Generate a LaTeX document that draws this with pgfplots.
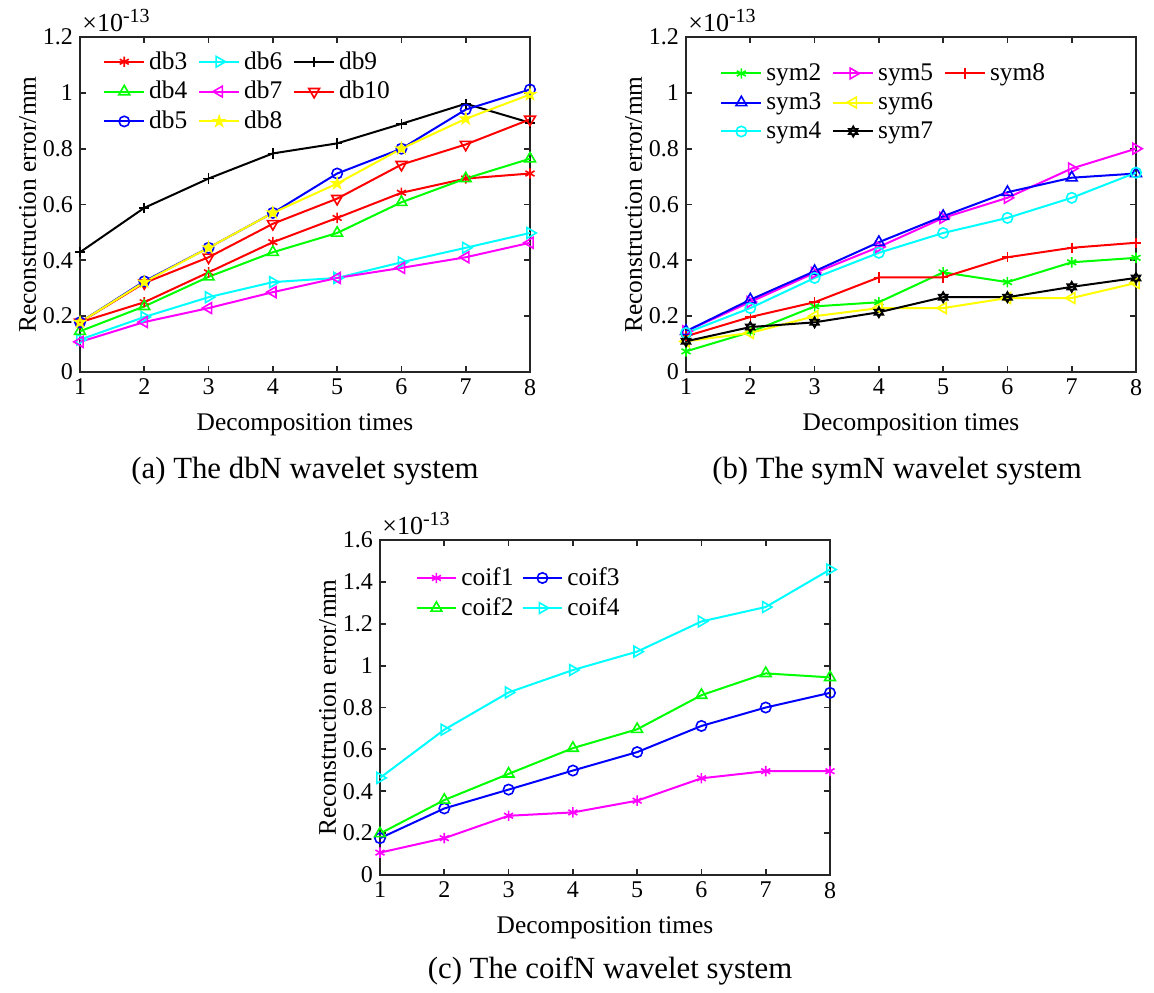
\documentclass[border=0pt]{standalone}
\usepackage{fontspec}
\setmainfont{Liberation Serif}
\usepackage{pgfplots}
\pgfplotsset{compat=1.18}

% pure RGB line colours
\definecolor{lred}{rgb}{1,0,0}
\definecolor{lgreen}{rgb}{0,1,0}
\definecolor{lblue}{rgb}{0,0,1}
\definecolor{lcyan}{rgb}{0,1,1}
\definecolor{lmagenta}{rgb}{1,0,1}
\definecolor{lyellow}{rgb}{1,1,0}
\definecolor{lblack}{rgb}{0,0,0}
\definecolor{axisgray}{rgb}{0.15,0.15,0.15}

% outlined pentagram and hexagram marks
\pgfdeclareplotmark{pentagram}{%
  \pgfpathmoveto{\pgfqpointpolar{90}{\pgfplotmarksize}}%
  \pgfpathlineto{\pgfqpointpolar{234}{\pgfplotmarksize}}%
  \pgfpathlineto{\pgfqpointpolar{18}{\pgfplotmarksize}}%
  \pgfpathlineto{\pgfqpointpolar{162}{\pgfplotmarksize}}%
  \pgfpathlineto{\pgfqpointpolar{306}{\pgfplotmarksize}}%
  \pgfpathclose\pgfusepathqstroke}
\pgfdeclareplotmark{hexagram}{%
  \pgfpathmoveto{\pgfqpointpolar{90}{\pgfplotmarksize}}%
  \pgfpathlineto{\pgfqpointpolar{210}{\pgfplotmarksize}}%
  \pgfpathlineto{\pgfqpointpolar{330}{\pgfplotmarksize}}%
  \pgfpathclose
  \pgfpathmoveto{\pgfqpointpolar{270}{\pgfplotmarksize}}%
  \pgfpathlineto{\pgfqpointpolar{30}{\pgfplotmarksize}}%
  \pgfpathlineto{\pgfqpointpolar{150}{\pgfplotmarksize}}%
  \pgfpathclose\pgfusepathqstroke}

\pgfplotsset{
  panel/.style={
    scale only axis, width=225pt, height=167.5pt,
    xmin=1, xmax=8, xtick={1,2,3,4,5,6,7,8}, ymin=0,
    clip=false,
    tick align=inside, major tick length=3pt,
    axis line style={line width=1.1pt, color=axisgray},
    tick style={line width=0.9pt, color=axisgray},
    /pgf/number format/assume math mode=true,
    ticklabel style={font=\fontsize{12}{14}\selectfont},
    label style={font=\fontsize{12.7}{15}\selectfont},
    xlabel={Decomposition times},
    ylabel={Reconstruction error/mm},
    xlabel style={at={(axis description cs:0.5,-0.176)}, anchor=base},
    ylabel style={at={(axis description cs:-0.098,0.5)}, anchor=base, rotate=0},
    every axis plot/.append style={line width=1pt, mark size=2.6pt,
      mark options={solid, line width=0.8pt}},
    legend cell align=left,
    legend image code/.code={%
      \draw[mark repeat=2, mark phase=2] plot coordinates {(0cm,0cm) (0.35cm,0cm) (0.7cm,0cm)};},
    legend style={draw=none, fill=none, inner sep=0pt, anchor=north west,
      font=\fontsize{12.7}{15}\selectfont, row sep=0.6pt,
      /tikz/every even column/.append style={column sep=3.5pt}},
  },
  tri up/.style={mark=triangle, mark options={solid, line width=0.8pt, scale=1.2}},
  tri down/.style={mark=triangle, mark options={solid, line width=0.8pt, scale=1.2, rotate=180}},
  tri right/.style={mark=triangle, mark options={solid, line width=0.8pt, scale=1.2, rotate=-90}},
  tri left/.style={mark=triangle, mark options={solid, line width=0.8pt, scale=1.2, rotate=90}},
}
\newcommand{\scalenote}{\node[anchor=base west, inner sep=0pt, font=\fontsize{13}{15}\selectfont]
  at ([xshift=1pt,yshift=3pt]rel axis cs:0,1) {×10\raisebox{0.75ex}{\fontsize{10}{12}\selectfont -13}};}

\begin{document}
\begin{tikzpicture}
\path[use as bounding box] (0,0) rectangle (577pt,-496pt);

% (a) dbN
\begin{axis}[panel, at={(40pt,-186pt)}, anchor=south west,
  ymax=1.2, ytick={0,0.2,0.4,0.6,0.8,1,1.2},
  legend columns=3, legend style={at={(rel axis cs:0.051,0.97)}}]
\addplot[lred, mark=asterisk] coordinates {(1,0.178)(2,0.250)(3,0.357)(4,0.465)(5,0.552)(6,0.642)(7,0.693)(8,0.711)};
\addlegendentry{db3}
\addplot[lcyan, tri right] coordinates {(1,0.116)(2,0.197)(3,0.268)(4,0.322)(5,0.337)(6,0.393)(7,0.445)(8,0.498)};
\addlegendentry{db6}
\addplot[lblack, mark=+] coordinates {(1,0.429)(2,0.588)(3,0.693)(4,0.783)(5,0.819)(6,0.889)(7,0.961)(8,0.893)};
\addlegendentry{db9}
\addplot[lgreen, tri up] coordinates {(1,0.146)(2,0.235)(3,0.341)(4,0.429)(5,0.498)(6,0.608)(7,0.693)(8,0.764)};
\addlegendentry{db4}
\addplot[lmagenta, tri left] coordinates {(1,0.108)(2,0.179)(3,0.229)(4,0.286)(5,0.337)(6,0.373)(7,0.411)(8,0.463)};
\addlegendentry{db7}
\addplot[lred, tri down] coordinates {(1,0.178)(2,0.319)(3,0.411)(4,0.531)(5,0.621)(6,0.743)(7,0.815)(8,0.905)};
\addlegendentry{db10}
\addplot[lblue, mark=o] coordinates {(1,0.178)(2,0.325)(3,0.445)(4,0.570)(5,0.711)(6,0.800)(7,0.940)(8,1.012)};
\addlegendentry{db5}
\addplot[lyellow, mark=pentagram] coordinates {(1,0.178)(2,0.322)(3,0.445)(4,0.570)(5,0.675)(6,0.800)(7,0.907)(8,0.994)};
\addlegendentry{db8}
\scalenote
\end{axis}

% (b) symN
\begin{axis}[panel, at={(343pt,-186pt)}, anchor=south west,
  ymax=1.2, ytick={0,0.2,0.4,0.6,0.8,1,1.2},
  legend columns=3, legend style={at={(rel axis cs:0.0756,0.934)}}]
\addplot[lgreen, mark=asterisk] coordinates {(1,0.074)(2,0.143)(3,0.235)(4,0.250)(5,0.357)(6,0.322)(7,0.393)(8,0.409)};
\addlegendentry{sym2}
\addplot[lmagenta, tri right] coordinates {(1,0.146)(2,0.251)(3,0.355)(4,0.448)(5,0.552)(6,0.624)(7,0.729)(8,0.800)};
\addlegendentry{sym5}
\addplot[lred, mark=+] coordinates {(1,0.128)(2,0.197)(3,0.250)(4,0.339)(5,0.339)(6,0.411)(7,0.445)(8,0.463)};
\addlegendentry{sym8}
\addplot[lblue, tri up] coordinates {(1,0.146)(2,0.259)(3,0.361)(4,0.465)(5,0.558)(6,0.644)(7,0.696)(8,0.711)};
\addlegendentry{sym3}
\addplot[lyellow, tri left] coordinates {(1,0.110)(2,0.140)(3,0.200)(4,0.229)(5,0.229)(6,0.265)(7,0.265)(8,0.319)};
\addlegendentry{sym6}
\addlegendimage{empty legend}\addlegendentry{}
\addplot[lcyan, mark=o] coordinates {(1,0.140)(2,0.229)(3,0.337)(4,0.427)(5,0.498)(6,0.552)(7,0.624)(8,0.714)};
\addlegendentry{sym4}
\addplot[lblack, mark=hexagram] coordinates {(1,0.110)(2,0.161)(3,0.178)(4,0.214)(5,0.268)(6,0.268)(7,0.305)(8,0.337)};
\addlegendentry{sym7}
\scalenote
\end{axis}

% (c) coifN
\begin{axis}[panel, at={(190pt,-437.5pt)}, anchor=south west,
  ymax=1.6, ytick={0,0.2,0.4,0.6,0.8,1,1.2,1.4,1.6},
  legend columns=2, legend style={at={(rel axis cs:0.078,0.931)},
    /tikz/every even column/.append style={column sep=2pt}}]
\addplot[lmagenta, mark=asterisk] coordinates {(1,0.107)(2,0.176)(3,0.283)(4,0.299)(5,0.355)(6,0.462)(7,0.496)(8,0.496)};
\addlegendentry{coif1}
\addplot[lblue, mark=o] coordinates {(1,0.176)(2,0.318)(3,0.408)(4,0.499)(5,0.587)(6,0.712)(7,0.800)(8,0.870)};
\addlegendentry{coif3}
\addplot[lgreen, tri up] coordinates {(1,0.198)(2,0.358)(3,0.483)(4,0.606)(5,0.696)(6,0.859)(7,0.963)(8,0.944)};
\addlegendentry{coif2}
\addplot[lcyan, tri right] coordinates {(1,0.464)(2,0.694)(3,0.872)(4,0.979)(5,1.067)(6,1.211)(7,1.280)(8,1.459)};
\addlegendentry{coif4}
\scalenote
\end{axis}

\node[anchor=base, font=\fontsize{15.4}{18}\selectfont] at (152.5pt,-239pt) {(a) The dbN wavelet system};
\node[anchor=base, font=\fontsize{15.4}{18}\selectfont] at (448.5pt,-239pt) {(b) The symN wavelet system};
\node[anchor=base, font=\fontsize{15.4}{18}\selectfont] at (305pt,-489pt) {(c) The coifN wavelet system};
\end{tikzpicture}
\end{document}
